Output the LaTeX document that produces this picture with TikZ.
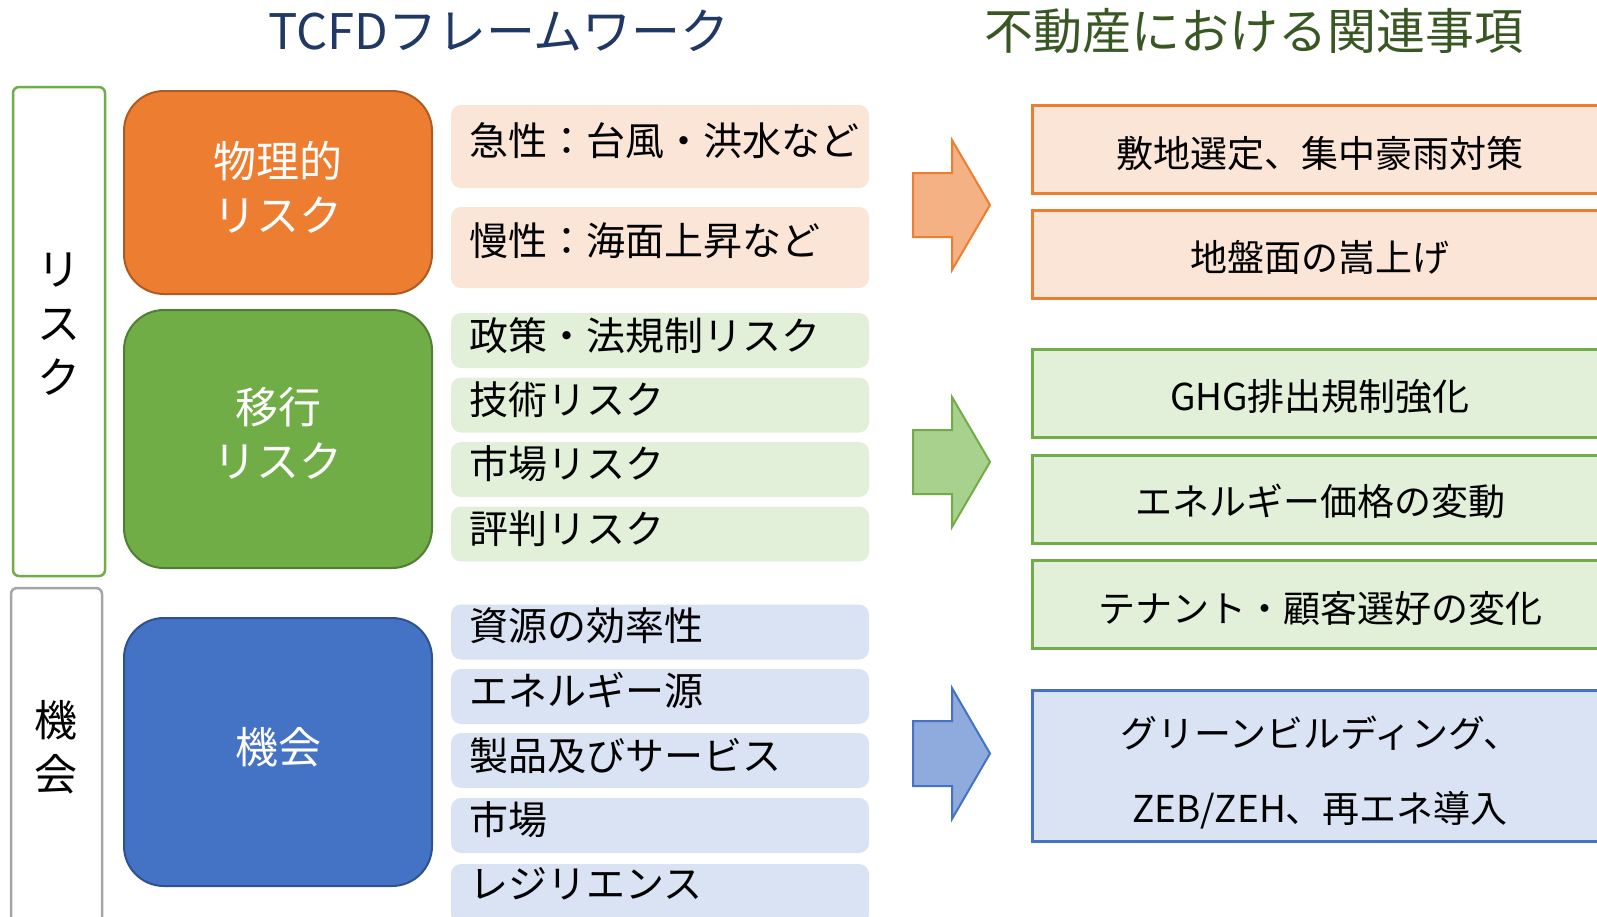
\documentclass[tikz,border=0pt]{standalone}
\usepackage{fontspec}
\setmainfont{Noto Sans CJK JP}
\definecolor{org}{HTML}{ED7D31}
\definecolor{orgd}{HTML}{AE5A21}
\definecolor{orgl}{HTML}{FBE5D6}
\definecolor{orga}{HTML}{F4B183}
\definecolor{grn}{HTML}{70AD47}
\definecolor{grnd}{HTML}{507E32}
\definecolor{grnl}{HTML}{E2F0D9}
\definecolor{grna}{HTML}{A9D18E}
\definecolor{blu}{HTML}{4472C4}
\definecolor{blud}{HTML}{2F528F}
\definecolor{blul}{HTML}{DAE3F3}
\definecolor{blua}{HTML}{8FAADC}
\definecolor{gry}{HTML}{A5A5A5}
\definecolor{navy}{HTML}{203864}
\definecolor{olive}{HTML}{385723}
\begin{document}
\begin{tikzpicture}[x=1pt,y=-1pt,
  bigbox/.style={rounded corners=40pt, line width=2pt, inner sep=0pt},
  bigtext/.style={text=white, font=\fontsize{43}{54}\selectfont, align=center, inner sep=0pt},
  bracket/.style={rounded corners=6pt, line width=2.5pt, fill=white, inner sep=0pt},
  vtext/.style={font=\fontsize{43}{54}\selectfont, align=center, inner sep=0pt},
  itembox/.style={rounded corners=10pt, draw=none, minimum width=418pt, inner sep=0pt},
  itemtext/.style={anchor=west, font=\fontsize{39}{47}\selectfont, inner sep=0pt},
  rbox/.style={line width=3pt, minimum width=588pt, minimum height=88pt, inner sep=0pt},
  rtext/.style={font=\fontsize{37}{75}\selectfont, align=center, inner sep=0pt},
  blk/.style={line width=2pt, line join=miter},
  title/.style={font=\fontsize{49}{59}\selectfont, inner sep=0pt}]
\useasboundingbox (0,0) rectangle (1597,916);
\clip (0,0) rectangle (1597,916);

% titles
\node[title, text=navy] (t1) at (499,31) {TCFDフレームワーク};
\node[title, text=olive] (t2) at (1254,31) {不動産における関連事項};

% brackets
\node[bracket, draw=grn, minimum width=92pt, minimum height=489pt] (brisk) at (59,331.5) {};
\node[vtext] (vrisk) at (59,324) {リ\\ス\\ク};
\node[bracket, draw=gry, minimum width=91pt, minimum height=350pt] (bopp) at (56.5,763) {};
\node[vtext] (vopp) at (56,747) {機\\会};

% big boxes
\node[bigbox, fill=org, draw=orgd, minimum width=308pt, minimum height=203pt] (phys) at (278,192.5) {};
\node[bigtext] (tphys) at (278,187) {物理的\\リスク};
\node[bigbox, fill=grn, draw=grnd, minimum width=308pt, minimum height=258pt] (trans) at (278,439) {};
\node[bigtext] (ttrans) at (278,433) {移行\\リスク};
\node[bigbox, fill=blu, draw=blud, minimum width=308pt, minimum height=268pt] (opp) at (278,752) {};
\node[bigtext] (topp) at (278,747) {機会};

% items orange
\node[itembox, fill=orgl, minimum height=83pt] (o1) at (660,146.5) {};
\node[itemtext] (to1) at (469,141) {急性：台風・洪水など};
\node[itembox, fill=orgl, minimum height=81pt] (o2) at (660,247.5) {};
\node[itemtext] (to2) at (469,241) {慢性：海面上昇など};

% items green
\node[itembox, fill=grnl, minimum height=55pt] (g1) at (660,340.5) {};
\node[itemtext] (tg1) at (469,336) {政策・法規制リスク};
\node[itembox, fill=grnl, minimum height=55pt] (g2) at (660,405) {};
\node[itemtext] (tg2) at (469,400) {技術リスク};
\node[itembox, fill=grnl, minimum height=55pt] (g3) at (660,469.5) {};
\node[itemtext] (tg3) at (469,464) {市場リスク};
\node[itembox, fill=grnl, minimum height=55pt] (g4) at (660,534) {};
\node[itemtext] (tg4) at (469,529) {評判リスク};

% items blue
\node[itembox, fill=blul, minimum height=55pt] (b1) at (660,632) {};
\node[itemtext] (tb1) at (469,626) {資源の効率性};
\node[itembox, fill=blul, minimum height=55pt] (b2) at (660,696.5) {};
\node[itemtext] (tb2) at (469,690) {エネルギー源};
\node[itembox, fill=blul, minimum height=55pt] (b3) at (660,760.5) {};
\node[itemtext] (tb3) at (469,756) {製品及びサービス};
\node[itembox, fill=blul, minimum height=55pt] (b4) at (660,825.5) {};
\node[itemtext] (tb4) at (469,820) {市場};
\node[itembox, fill=blul, minimum height=60pt] (b5) at (660,894) {};
\node[itemtext] (tb5) at (469,884) {レジリエンス};

% block arrows
\draw[blk, fill=orga, draw=org] (913,173) -- (952,173) -- (952,140) -- (990,205) -- (952,270) -- (952,237) -- (913,237) -- cycle;
\draw[blk, fill=grna, draw=grn] (913,430) -- (952,430) -- (952,397) -- (990,462) -- (952,527) -- (952,494) -- (913,494) -- cycle;
\draw[blk, fill=blua, draw=blu] (913,721) -- (952,721) -- (952,688) -- (990,753.5) -- (952,819) -- (952,786) -- (913,786) -- cycle;

% right boxes
\node[rbox, draw=org, fill=orgl] (r1) at (1326,149) {};
\node[rtext] (tr1) at (1320,153) {敷地選定、集中豪雨対策};
\node[rbox, draw=org, fill=orgl] (r2) at (1326,254.5) {};
\node[rtext] (tr2) at (1320,257) {地盤面の嵩上げ};
\node[rbox, draw=grn, fill=grnl] (r3) at (1326,393) {};
\node[rtext] (tr3) at (1320,397) {GHG排出規制強化};
\node[rbox, draw=grn, fill=grnl] (r4) at (1326,499) {};
\node[rtext] (tr4) at (1320,501) {エネルギー価格の変動};
\node[rbox, draw=grn, fill=grnl] (r5) at (1326,604) {};
\node[rtext] (tr5) at (1320,608) {テナント・顧客選好の変化};
\node[rbox, draw=blu, fill=blul, minimum height=151pt] (r6) at (1326,765.5) {};
\node[rtext] (tr6) at (1320,772.5) {グリーンビルディング、\\ZEB/ZEH、再エネ導入};
\end{tikzpicture}
\end{document}
